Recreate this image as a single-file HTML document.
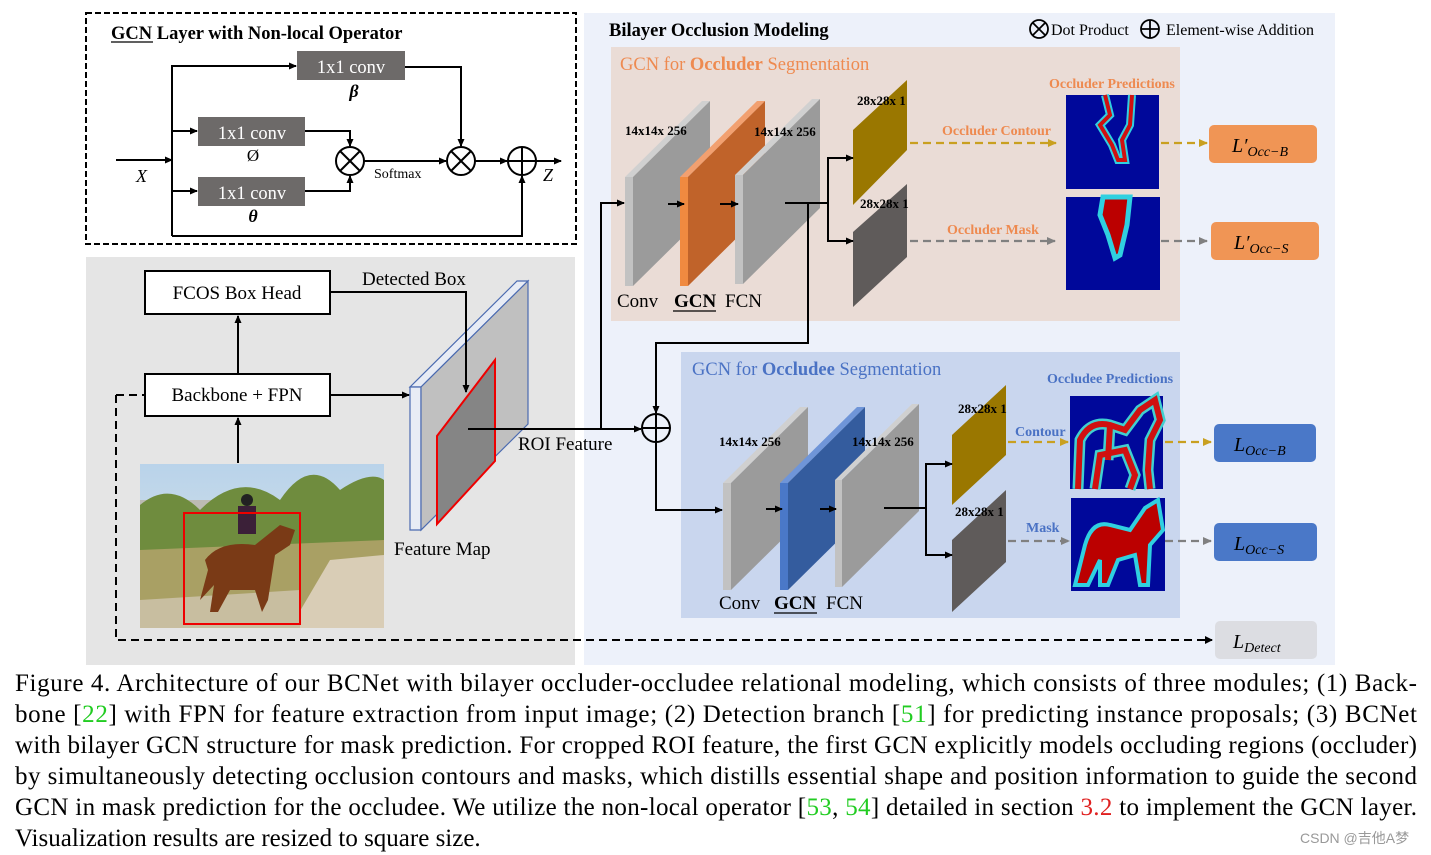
<!DOCTYPE html>
<html><head><meta charset="utf-8"><style>
html,body{margin:0;padding:0;background:#fff;}
svg{display:block;}
text{font-family:"Liberation Serif",serif;}
</style></head><body>
<svg width="1431" height="855" viewBox="0 0 1431 855" xmlns="http://www.w3.org/2000/svg">
<defs>
<marker id="ab" markerWidth="8" markerHeight="8" refX="7" refY="4" orient="auto" markerUnits="userSpaceOnUse"><path d="M0,0.5 L8,4 L0,7.5 Z" fill="#000"/></marker>
<marker id="ay" markerWidth="9" markerHeight="9" refX="8" refY="4.5" orient="auto" markerUnits="userSpaceOnUse"><path d="M0,0.5 L9,4.5 L0,8.5 Z" fill="#c9a020"/></marker>
<marker id="ag" markerWidth="9" markerHeight="9" refX="8" refY="4.5" orient="auto" markerUnits="userSpaceOnUse"><path d="M0,0.5 L9,4.5 L0,8.5 Z" fill="#808080"/></marker>
<linearGradient id="sky" x1="0" y1="0" x2="0" y2="1"><stop offset="0" stop-color="#b9d3ea"/><stop offset="1" stop-color="#dfe6e6"/></linearGradient>
</defs>

<!-- GCN layer box -->
<rect x="86" y="13" width="490" height="231" fill="#fff" stroke="#000" stroke-width="2" stroke-dasharray="6,3"/>
<text x="111" y="39" font-size="18.5" font-weight="bold">GCN Layer with Non-local Operator</text>
<line x1="111" y1="42" x2="153" y2="42" stroke="#000" stroke-width="1.2"/>
<rect x="297" y="51" width="108" height="29" fill="#6d6a69"/>
<text x="351" y="73" font-size="18.5" fill="#fff" text-anchor="middle">1x1 conv</text>
<text x="354" y="97" font-size="18" font-style="italic" font-weight="bold" text-anchor="middle">β</text>
<rect x="198" y="117" width="107" height="29" fill="#6d6a69"/>
<text x="252" y="139" font-size="18.5" fill="#fff" text-anchor="middle">1x1 conv</text>
<text x="253" y="161" font-size="17" text-anchor="middle">Ø</text>
<rect x="198" y="177" width="107" height="29" fill="#6d6a69"/>
<text x="252" y="199" font-size="18.5" fill="#fff" text-anchor="middle">1x1 conv</text>
<text x="253" y="222" font-size="18" font-style="italic" font-weight="bold" text-anchor="middle">θ</text>
<g stroke="#000" stroke-width="2" fill="none">
<line x1="116" y1="160" x2="172" y2="160" marker-end="url(#ab)"/>
<polyline points="172,236 172,66 296,66" marker-end="url(#ab)"/>
<line x1="172" y1="131" x2="197" y2="131" marker-end="url(#ab)"/>
<line x1="172" y1="191" x2="197" y2="191" marker-end="url(#ab)"/>
<polyline points="305,131 350,131 350,146" marker-end="url(#ab)"/>
<polyline points="305,191 350,191 350,176" marker-end="url(#ab)"/>
<line x1="364" y1="161" x2="446" y2="161" marker-end="url(#ab)"/>
<polyline points="405,67 461,67 461,146" marker-end="url(#ab)"/>
<line x1="475" y1="161" x2="507" y2="161" marker-end="url(#ab)"/>
<line x1="536" y1="161" x2="561" y2="161" marker-end="url(#ab)"/>
<polyline points="172,236 522,236 522,176" marker-end="url(#ab)"/>
<circle cx="350" cy="161" r="14"/><line x1="340" y1="151" x2="360" y2="171"/><line x1="360" y1="151" x2="340" y2="171"/>
<circle cx="461" cy="161" r="14"/><line x1="451" y1="151" x2="471" y2="171"/><line x1="471" y1="151" x2="451" y2="171"/>
<circle cx="522" cy="161" r="14"/><line x1="508" y1="161" x2="536" y2="161"/><line x1="522" y1="147" x2="522" y2="175"/>
</g>
<text x="374" y="178" font-size="14">Softmax</text>
<text x="136" y="182" font-size="18" font-style="italic">X</text>
<text x="543" y="181" font-size="18" font-style="italic">Z</text>

<!-- left gray panel -->
<rect x="86" y="257" width="489" height="408" fill="#e5e5e5"/>
<rect x="145" y="271" width="185" height="43" fill="#fff" stroke="#000" stroke-width="2"/>
<text x="237" y="299" font-size="19" text-anchor="middle">FCOS Box Head</text>
<rect x="145" y="374" width="185" height="42" fill="#fff" stroke="#000" stroke-width="2"/>
<text x="237" y="401" font-size="19" text-anchor="middle">Backbone + FPN</text>
<text x="362" y="285" font-size="19">Detected Box</text>
<!-- image -->
<rect x="140" y="464" width="244" height="164" fill="url(#sky)"/>
<rect x="140" y="500" width="244" height="20" fill="#b8a890" opacity="0.6"/>
<path d="M140,505 Q170,480 200,510 Q240,470 280,500 Q310,455 340,490 Q370,470 384,480 L384,560 L140,560 Z" fill="#6f8c3e"/>
<path d="M140,550 L384,540 L384,628 L140,628 Z" fill="#a9a064"/>
<path d="M290,628 L330,560 L384,555 L384,628 Z" fill="#d9cdb6"/>
<path d="M140,600 L300,590 L300,628 L140,628 Z" fill="#c8bea0"/>
<path d="M205,560 Q220,540 255,545 L280,525 L295,530 L290,545 L275,555 L268,600 L262,612 L255,590 L230,590 L218,612 L210,612 L214,585 L200,600 L208,570 Z" fill="#7a3a16"/>
<rect x="238" y="506" width="18" height="28" fill="#3b2038"/>
<circle cx="247" cy="500" r="6" fill="#222"/>
<rect x="184" y="513" width="116" height="111" fill="none" stroke="#e00" stroke-width="2"/>
<!-- feature map -->
<polygon points="410,387 517,281 528,281 421,387" fill="#e8ecf5" stroke="#4a6ab0" stroke-width="1.2"/>
<polygon points="410,387 421,387 421,530 410,530" fill="#e8ecf5" stroke="#4a6ab0" stroke-width="1.2"/>
<polygon points="421,387 528,281 528,424 421,530" fill="#c0c0c0" stroke="#4a6ab0" stroke-width="1.2"/>
<polygon points="437,436 495,360 495,461 437,524" fill="#858585" stroke="#e00" stroke-width="2"/>
<g stroke="#000" stroke-width="2" fill="none">
<line x1="238" y1="373" x2="238" y2="316" marker-end="url(#ab)"/>
<line x1="238" y1="463" x2="238" y2="418" marker-end="url(#ab)"/>
<line x1="330" y1="395" x2="409" y2="395" marker-end="url(#ab)"/>
<polyline points="330,292 466,292 466,392" marker-end="url(#ab)"/>
</g>
<text x="394" y="555" font-size="19">Feature Map</text>
<line x1="116" y1="395" x2="145" y2="395" stroke="#000" stroke-width="2" stroke-dasharray="8,5"/>

<!-- right panel -->
<rect x="584" y="13" width="751" height="652" fill="#edf1fa"/>
<text x="609" y="36" font-size="18.5" font-weight="bold">Bilayer Occlusion Modeling</text>
<g stroke="#000" stroke-width="1.8" fill="none">
<circle cx="1039" cy="29" r="9"/><line x1="1033" y1="23" x2="1045" y2="35"/><line x1="1045" y1="23" x2="1033" y2="35"/>
<circle cx="1150" cy="29" r="9"/><line x1="1141" y1="29" x2="1159" y2="29"/><line x1="1150" y1="20" x2="1150" y2="38"/>
</g>
<text x="1051" y="35" font-size="16">Dot Product</text>
<text x="1166" y="35" font-size="16">Element-wise Addition</text>

<!-- occluder panel -->
<rect x="611" y="47" width="569" height="274" fill="#eadcd6"/>
<text x="620" y="70" font-size="18.5" fill="#ee8a50">GCN for <tspan font-weight="bold">Occluder</tspan> Segmentation</text>
<g>
<polygon points="625,177 702,101 710,101 633,177" fill="#d0d0d0"/><polygon points="625,177 633,177 633,286 625,286" fill="#c2c2c2"/><polygon points="633,177 710,101 710,210 633,286" fill="#9b9b9b"/>
<polygon points="680,177 757,101 765,101 688,177" fill="#f2a070"/><polygon points="680,177 688,177 688,286 680,286" fill="#f08a40"/><polygon points="688,177 765,101 765,210 688,286" fill="#c0632a"/>
<polygon points="735,175 812,99 820,99 743,175" fill="#d0d0d0"/><polygon points="735,175 743,175 743,284 735,284" fill="#c2c2c2"/><polygon points="743,175 820,99 820,208 743,284" fill="#9b9b9b"/>
</g>
<text x="625" y="135" font-size="13" font-weight="bold">14x14x 256</text>
<text x="754" y="136" font-size="13" font-weight="bold">14x14x 256</text>
<text x="617" y="307" font-size="19">Conv</text>
<text x="674" y="307" font-size="19" font-weight="bold">GCN</text>
<line x1="673" y1="311" x2="716" y2="311" stroke="#000" stroke-width="1.2"/>
<text x="725" y="307" font-size="19">FCN</text>
<polygon points="853,130 907,80 907,150 853,205" fill="#9a7700"/>
<polygon points="853,232 907,184 907,257 853,307" fill="#5f5b5a"/>
<text x="857" y="105" font-size="13" font-weight="bold">28x28x 1</text>
<text x="860" y="208" font-size="13" font-weight="bold">28x28x 1</text>
<g stroke="#000" stroke-width="2" fill="none">
<polyline points="601,429 601,203 624,203" marker-end="url(#ab)"/>
<line x1="468" y1="429" x2="641" y2="429" marker-end="url(#ab)"/>
<line x1="668" y1="204" x2="684" y2="204" marker-end="url(#ab)"/>
<line x1="720" y1="204" x2="738" y2="204" marker-end="url(#ab)"/>
<line x1="785" y1="203" x2="828" y2="203"/>
<polyline points="852,158 828,158 828,241 852,241"/>
<line x1="840" y1="158" x2="853" y2="158" marker-end="url(#ab)"/>
<line x1="840" y1="241" x2="853" y2="241" marker-end="url(#ab)"/>
<polyline points="808,203 808,343 656,343 656,413" marker-end="url(#ab)"/>
<circle cx="656" cy="428" r="14"/><line x1="642" y1="428" x2="670" y2="428"/><line x1="656" y1="414" x2="656" y2="442"/>
</g>
<text x="518" y="450" font-size="19">ROI Feature</text>
<line x1="910" y1="143" x2="1056" y2="143" stroke="#c9a020" stroke-width="2.2" stroke-dasharray="8,5" marker-end="url(#ay)"/>
<line x1="910" y1="241" x2="1055" y2="241" stroke="#808080" stroke-width="2.2" stroke-dasharray="8,5" marker-end="url(#ag)"/>
<text x="942" y="135" font-size="14" font-weight="bold" fill="#ee8a50">Occluder Contour</text>
<text x="947" y="234" font-size="14" font-weight="bold" fill="#ee8a50">Occluder Mask</text>
<text x="1049" y="88" font-size="14" font-weight="bold" fill="#ee8a50">Occluder Predictions</text>
<rect x="1066" y="95" width="93" height="94" fill="#00089a"/>
<path d="M1105,95 L1110,115 L1100,125 L1112,145 L1118,160 L1125,160 L1122,140 L1130,125 L1132,95" fill="none" stroke="#30d0e0" stroke-width="8"/>
<path d="M1105,95 L1110,115 L1100,125 L1112,145 L1118,160 L1125,160 L1122,140 L1130,125 L1132,95" fill="none" stroke="#d01010" stroke-width="4"/>
<rect x="1066" y="197" width="94" height="93" fill="#00089a"/>
<path d="M1103,197 L1130,197 L1127,225 L1120,255 L1115,258 L1108,235 L1100,215 Z" fill="#b00" stroke="#30d0e0" stroke-width="5"/>
<line x1="1161" y1="143" x2="1207" y2="143" stroke="#c9a020" stroke-width="2.2" stroke-dasharray="8,5" marker-end="url(#ay)"/>
<line x1="1161" y1="241" x2="1207" y2="241" stroke="#808080" stroke-width="2.2" stroke-dasharray="8,5" marker-end="url(#ag)"/>
<rect x="1209" y="125" width="108" height="38" rx="5" fill="#f09555"/>
<text x="1232" y="152" font-size="20" font-style="italic">L′<tspan font-size="14" dy="4">Occ−B</tspan></text>
<rect x="1211" y="222" width="108" height="38" rx="5" fill="#f09555"/>
<text x="1234" y="249" font-size="20" font-style="italic">L′<tspan font-size="14" dy="4">Occ−S</tspan></text>

<!-- occludee panel -->
<rect x="681" y="352" width="499" height="266" fill="#c9d6ee"/>
<text x="692" y="375" font-size="18.5" fill="#4a72c4">GCN for <tspan font-weight="bold">Occludee</tspan> Segmentation</text>
<g>
<polygon points="723,483 800,407 808,407 731,483" fill="#d0d0d0"/><polygon points="723,483 731,483 731,590 723,590" fill="#c2c2c2"/><polygon points="731,483 808,407 808,514 731,590" fill="#9b9b9b"/>
<polygon points="780,483 857,407 865,407 788,483" fill="#6f95d8"/><polygon points="780,483 788,483 788,590 780,590" fill="#4a78c8"/><polygon points="788,483 865,407 865,514 788,590" fill="#345c9e"/>
<polygon points="835,480 912,404 919,404 842,480" fill="#d0d0d0"/><polygon points="835,480 842,480 842,587 835,587" fill="#c2c2c2"/><polygon points="842,480 919,404 919,511 842,587" fill="#9b9b9b"/>
</g>
<text x="719" y="446" font-size="13" font-weight="bold">14x14x 256</text>
<text x="852" y="446" font-size="13" font-weight="bold">14x14x 256</text>
<text x="719" y="609" font-size="19">Conv</text>
<text x="774" y="609" font-size="19" font-weight="bold">GCN</text>
<line x1="774" y1="613" x2="817" y2="613" stroke="#000" stroke-width="1.2"/>
<text x="826" y="609" font-size="19">FCN</text>
<polygon points="952,435 1006,385 1006,455 952,505" fill="#9a7700"/>
<polygon points="952,540 1006,490 1006,562 952,612" fill="#5f5b5a"/>
<text x="958" y="413" font-size="13" font-weight="bold">28x28x 1</text>
<text x="955" y="516" font-size="13" font-weight="bold">28x28x 1</text>
<g stroke="#000" stroke-width="2" fill="none">
<polyline points="656,442 656,510 722,510" marker-end="url(#ab)"/>
<line x1="766" y1="509" x2="782" y2="509" marker-end="url(#ab)"/>
<line x1="820" y1="509" x2="836" y2="509" marker-end="url(#ab)"/>
<line x1="884" y1="508" x2="926" y2="508"/>
<polyline points="940,464 926,464 926,555 940,555"/>
<line x1="938" y1="464" x2="952" y2="464" marker-end="url(#ab)"/>
<line x1="938" y1="555" x2="952" y2="555" marker-end="url(#ab)"/>
</g>
<line x1="1008" y1="442" x2="1068" y2="442" stroke="#c9a020" stroke-width="2.2" stroke-dasharray="8,5" marker-end="url(#ay)"/>
<line x1="1008" y1="541" x2="1069" y2="541" stroke="#808080" stroke-width="2.2" stroke-dasharray="8,5" marker-end="url(#ag)"/>
<text x="1015" y="436" font-size="14" font-weight="bold" fill="#4a72c4">Contour</text>
<text x="1026" y="532" font-size="14" font-weight="bold" fill="#4a72c4">Mask</text>
<text x="1047" y="383" font-size="14" font-weight="bold" fill="#4a72c4">Occludee Predictions</text>
<rect x="1070" y="396" width="93" height="93" fill="#00089a"/>
<path d="M1078,489 L1080,440 Q1090,420 1110,425 L1125,430 L1140,410 L1155,400 L1160,420 L1150,440 L1148,470 L1150,489 M1095,489 L1100,455 L1125,450 L1135,475 L1130,489 M1110,425 L1108,460" fill="none" stroke="#40d0d0" stroke-width="11"/>
<path d="M1078,489 L1080,440 Q1090,420 1110,425 L1125,430 L1140,410 L1155,400 L1160,420 L1150,440 L1148,470 L1150,489 M1095,489 L1100,455 L1125,450 L1135,475 L1130,489 M1110,425 L1108,460" fill="none" stroke="#d01010" stroke-width="6"/>
<rect x="1071" y="498" width="94" height="93" fill="#00089a"/>
<path d="M1075,585 L1085,545 Q1092,520 1110,525 L1130,530 L1145,508 L1158,500 L1163,530 L1150,545 L1148,585 L1140,585 L1135,555 L1118,560 L1108,585 L1100,585 L1100,560 L1088,585 Z" fill="#b00" stroke="#30d0e0" stroke-width="4"/>
<line x1="1165" y1="442" x2="1211" y2="442" stroke="#c9a020" stroke-width="2.2" stroke-dasharray="8,5" marker-end="url(#ay)"/>
<line x1="1165" y1="541" x2="1211" y2="541" stroke="#808080" stroke-width="2.2" stroke-dasharray="8,5" marker-end="url(#ag)"/>
<rect x="1214" y="424" width="102" height="38" rx="5" fill="#4a78c8"/>
<text x="1234" y="451" font-size="20" font-style="italic">L<tspan font-size="14" dy="4">Occ−B</tspan></text>
<rect x="1214" y="523" width="103" height="38" rx="5" fill="#4a78c8"/>
<text x="1234" y="550" font-size="20" font-style="italic">L<tspan font-size="14" dy="4">Occ−S</tspan></text>
<rect x="1215" y="621" width="102" height="38" rx="5" fill="#dcdde2"/>
<text x="1233" y="648" font-size="20" font-style="italic">L<tspan font-size="14" dy="4">Detect</tspan></text>

<!-- detect dashed -->
<polyline points="116,395 116,640 1212,640" fill="none" stroke="#000" stroke-width="2" stroke-dasharray="8,5"/>
<path d="M1213,640 L1205,636 L1205,644 Z" fill="#000"/>

<!-- caption -->
<g font-size="25" fill="#000">
<text x="15" y="691" textLength="1402" lengthAdjust="spacing">Figure 4. Architecture of our BCNet with bilayer occluder-occludee relational modeling, which consists of three modules; (1) Back-</text>
<text x="15" y="722" textLength="1402" lengthAdjust="spacing">bone [<tspan fill="#22cc22">22</tspan>] with FPN for feature extraction from input image; (2) Detection branch [<tspan fill="#22cc22">51</tspan>] for predicting instance proposals; (3) BCNet</text>
<text x="15" y="753" textLength="1402" lengthAdjust="spacing">with bilayer GCN structure for mask prediction. For cropped ROI feature, the first GCN explicitly models occluding regions (occluder)</text>
<text x="15" y="784" textLength="1402" lengthAdjust="spacing">by simultaneously detecting occlusion contours and masks, which distills essential shape and position information to guide the second</text>
<text x="15" y="815" textLength="1402" lengthAdjust="spacing">GCN in mask prediction for the occludee. We utilize the non-local operator [<tspan fill="#22cc22">53</tspan>, <tspan fill="#22cc22">54</tspan>] detailed in section <tspan fill="#e02020">3.2</tspan> to implement the GCN layer.</text>
<text x="15" y="846">Visualization results are resized to square size.</text>
</g>
<text x="1300" y="843" font-size="14" fill="#999" style="font-family:'Liberation Sans','Noto Sans CJK SC',sans-serif">CSDN @吉他A梦</text>
</svg>
</body></html>
